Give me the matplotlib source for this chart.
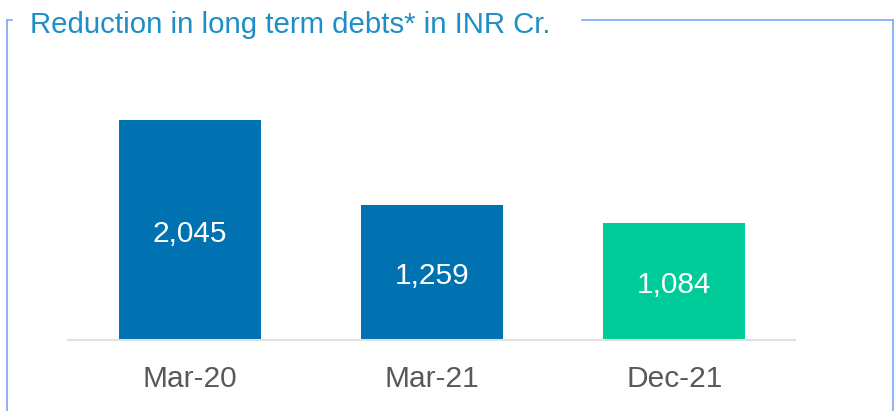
import matplotlib
matplotlib.use("Agg")
import matplotlib.pyplot as plt
from matplotlib.lines import Line2D

categories = ["Mar-20", "Mar-21", "Dec-21"]
debts = [2045, 1259, 1084]
labels = ["2,045", "1,259", "1,084"]
colors = ["#0072b2", "#0072b2", "#00cc99"]

plt.rcParams["font.family"] = ["Liberation Sans", "DejaVu Sans"]

W, H = 895, 411
fig = plt.figure(figsize=(W / 100, H / 100), dpi=100)

# plot area in pixel terms
x0, x1 = 68, 795
y_base, y_top = 340, 60
ax = fig.add_axes([x0 / W, 1 - y_base / H, (x1 - x0) / W, (y_base - y_top) / H])

px_per_unit = 220 / 2045
ax.set_ylim(0, (y_base - y_top) / px_per_unit)
ax.set_xlim(-0.504, 2.498)

x = range(len(categories))
bars = ax.bar(x, debts, width=0.587, color=colors)
for rect, lab, v in zip(bars, labels, debts):
    ax.text(rect.get_x() + rect.get_width() / 2, v / 2 - 35, lab, ha="center", va="center",
            color="white", fontsize=21.5)

ax.set_xticks(list(x), categories)
ax.tick_params(axis="x", length=0, labelsize=21.5, colors="#595959", pad=18)
ax.set_yticks([])
for s in ("left", "right", "top"):
    ax.spines[s].set_visible(False)
ax.spines["bottom"].set_color("#e0e0e0")
ax.spines["bottom"].set_linewidth(1.5)

# frame around the chart
fc = "#7aa7ff"
frame = [
    ([7, 7], [20, 411]),
    ([7, 12], [20, 20]),
    ([582, 893], [20, 20]),
    ([893, 893], [20, 411]),
]
for xs, ys in frame:
    fig.add_artist(Line2D([v / W for v in xs], [1 - v / H for v in ys],
                          color=fc, lw=1.2, transform=fig.transFigure))

fig.text(30 / W, 1 - 25 / H, "Reduction in long term debts* in INR Cr.",
         color="#1e8fc6", fontsize=21.2, va="center", ha="left")

fig.savefig("out.png", dpi=100, facecolor="white")
